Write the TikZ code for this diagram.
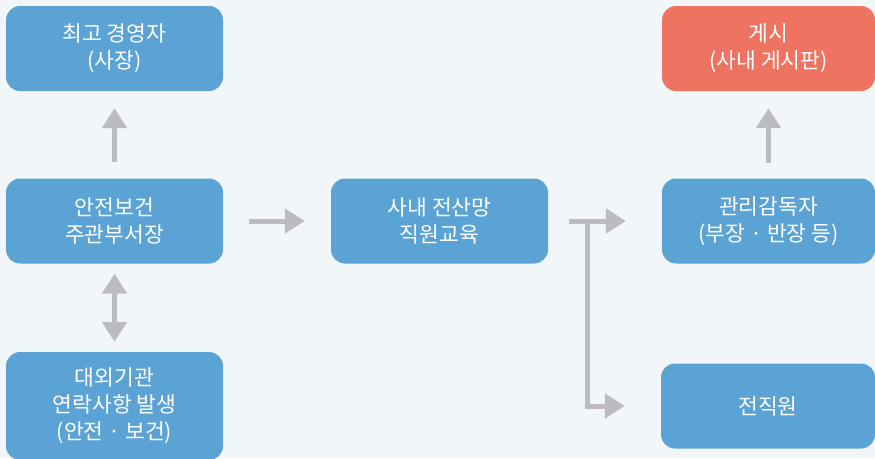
\documentclass[tikz,border=0pt]{standalone}
\usepackage{fontspec}
\newfontfamily\kr{Noto Sans CJK KR}
\usetikzlibrary{positioning,arrows.meta}

\definecolor{bgpale}{HTML}{F1F6F9}
\definecolor{boxblue}{HTML}{5BA3D4}
\definecolor{boxred}{HTML}{EE7360}
\definecolor{arrgray}{HTML}{BCBCC0}

\tikzset{
  stepbox/.style={fill=boxblue,rounded corners=14pt,text=white,align=center,
    minimum width=217pt,minimum height=85pt,inner sep=0pt,
    font=\kr\fontsize{21.5}{27}\selectfont},
  postbox/.style={stepbox,fill=boxred},
  arr/.style={draw=arrgray,line width=5pt,-{Triangle[width=24pt,length=20pt]}},
  dblarr/.style={arr,{Triangle[width=24pt,length=20pt]}-{Triangle[width=24pt,length=20pt]}}
}

\begin{document}
\begin{tikzpicture}[x=1pt,y=-1pt]

\fill[bgpale] (0,0) rectangle (875,458);
\useasboundingbox (0,0) rectangle (875,458);

% left column
\node[stepbox] (ceo) at (114.5,48.5) {최고 경영자\\(사장)};
\node[stepbox] (head) at (114.5,221) {안전보건\\주관부서장};
\node[stepbox,minimum height=108pt] (ext) at (114.5,406) {대외기관\\연락사항 발생\\(안전 · 보건)};

% middle
\node[stepbox] (edu) at (439.5,221) {사내 전산망\\직원교육};

% right column
\node[postbox,minimum width=213pt] (board) at (768.5,48.5) {게시\\(사내 게시판)};
\node[stepbox,minimum width=213pt] (super) at (768.5,221) {관리감독자\\(부장 · 반장 등)};
\node[stepbox,minimum width=214pt] (all) at (768,406) {전직원};

\draw[arr,shorten <=16pt,shorten >=17pt] (head) -- (ceo);
\draw[dblarr,shorten <=10pt,shorten >=10pt] (head) -- (ext);
\draw[arr,shorten <=26pt,shorten >=26pt] (head) -- (edu);
\draw[arr,shorten <=21pt,shorten >=36pt] (edu) -- (super);
\draw[arr,shorten <=15pt,shorten >=17pt] (super) -- (board);

\coordinate (fork) at ([xshift=39pt]edu.east);
\draw[arr,shorten >=36pt] (fork) |- (all.west);

\end{tikzpicture}
\end{document}
